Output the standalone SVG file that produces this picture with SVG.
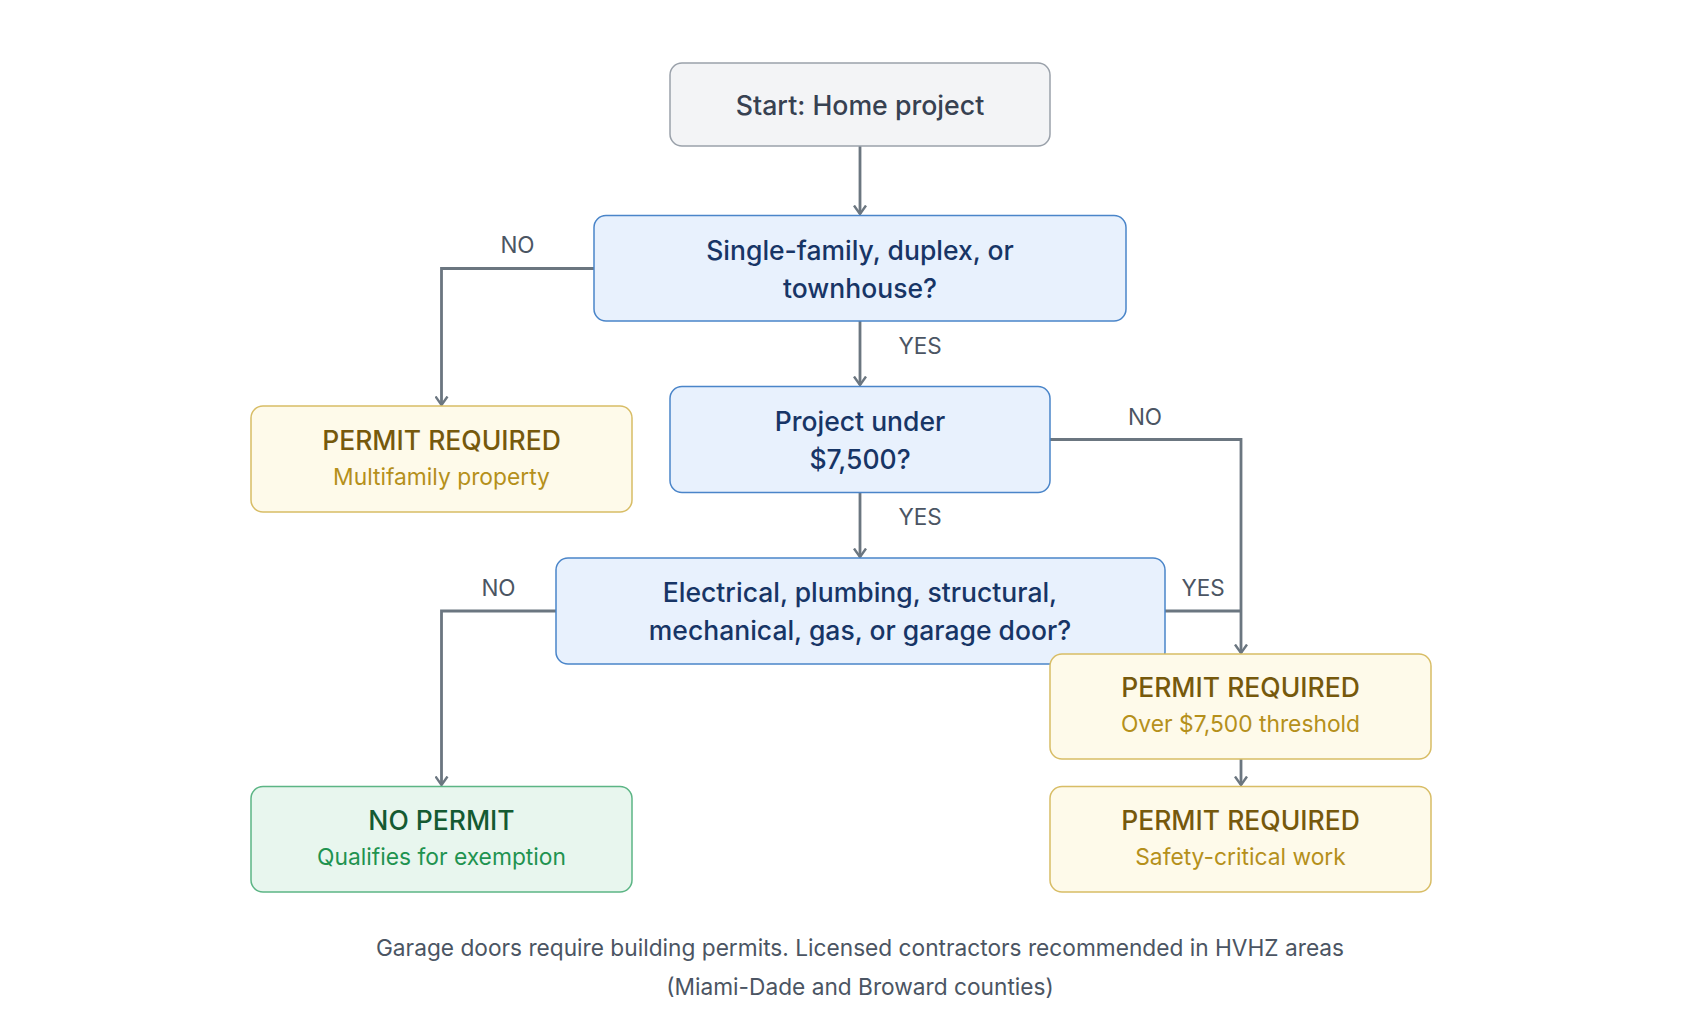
<svg xmlns="http://www.w3.org/2000/svg" width="1705" height="1033" viewBox="0 0 1705 1033">
<style>
text{font-family:Inter,"Noto Sans","Liberation Sans",sans-serif;text-anchor:middle}
.start rect{fill:#f3f4f6;stroke:#9aa1aa;stroke-width:1.5}
.start text{fill:#374151;font-size:26.7px;font-weight:500}
.q rect{fill:#e8f1fd;stroke:#4a85c9;stroke-width:1.5}
.q text{fill:#173566;font-size:26.5px;font-weight:500}
.p rect{fill:#fefaea;stroke:#d8bd66;stroke-width:1.5}
.p .t{fill:#76590c;font-size:26.5px;font-weight:500}
.p .s{fill:#b5901b;font-size:22.8px}
.g rect{fill:#e8f6ee;stroke:#5cb585;stroke-width:1.5}
.g .t{fill:#145a32;font-size:26.5px;font-weight:500}
.g .s{fill:#1f9350;font-size:22.8px}
.c path{fill:none;stroke:#6b7680;stroke-width:2.8;marker-end:url(#ah)}
.lbl{fill:#4b5563;font-size:22.5px}
.cap{fill:#4b5563;font-size:22.7px}
</style>
<defs>
<marker id="ah" viewBox="0 0 10 14" refX="9.5" refY="7" markerWidth="10" markerHeight="14" markerUnits="userSpaceOnUse" orient="auto">
<path d="M1,1 L9.5,7 L1,13" fill="none" stroke="#6b7680" stroke-width="2.4"/>
</marker>
</defs>
<rect width="1705" height="1033" fill="#ffffff"/>
<g class="c" id="connectors">
<path d="M860,146 V214"/>
<path d="M594,268.5 H441.5 V405"/>
<path d="M860,321 V385"/>
<path d="M1050,439.5 H1241 V653"/>
<path d="M860,493 V557"/>
<path d="M556,611 H441.5 V785"/>
<path d="M1165,611 H1241" style="marker-end:none"/>
<path d="M1241,759 V785"/>
</g>
<g id="labels">
<text class="lbl" x="517.5" y="252.5">NO</text>
<text class="lbl" x="920" y="353.5">YES</text>
<text class="lbl" x="1145" y="424.5">NO</text>
<text class="lbl" x="920" y="524.5">YES</text>
<text class="lbl" x="498.5" y="595.5">NO</text>
<text class="lbl" x="1203" y="595.5">YES</text>
</g>
<g id="start" class="start">
<rect x="670" y="63" width="380" height="83" rx="12"/>
<text x="860" y="114.5">Start: Home project</text>
</g>
<g id="q1" class="q">
<rect x="594" y="215.5" width="532" height="105.5" rx="12"/>
<text x="860" y="260">Single-family, duplex, or</text>
<text x="860" y="297.5">townhouse?</text>
</g>
<g id="q2" class="q">
<rect x="670" y="386.5" width="380" height="106" rx="12"/>
<text x="860" y="431">Project under</text>
<text x="860" y="468.5">$7,500?</text>
</g>
<g id="q3" class="q">
<rect x="556" y="558" width="609" height="106" rx="12"/>
<text x="860" y="602">Electrical, plumbing, structural,</text>
<text x="860" y="640">mechanical, gas, or garage door?</text>
</g>
<g id="multifamily" class="p">
<rect x="251" y="406" width="381" height="106" rx="12"/>
<text class="t" x="441.5" y="449.5">PERMIT REQUIRED</text>
<text class="s" x="441.5" y="485">Multifamily property</text>
</g>
<g id="over" class="p">
<rect x="1050" y="654" width="381" height="105" rx="12"/>
<text class="t" x="1240.5" y="697">PERMIT REQUIRED</text>
<text class="s" x="1240.5" y="732">Over $7,500 threshold</text>
</g>
<g id="safety" class="p">
<rect x="1050" y="786.5" width="381" height="105.5" rx="12"/>
<text class="t" x="1240.5" y="829.5">PERMIT REQUIRED</text>
<text class="s" x="1240.5" y="865">Safety-critical work</text>
</g>
<g id="nopermit" class="g">
<rect x="251" y="786.5" width="381" height="105.5" rx="12"/>
<text class="t" x="441.5" y="829.5">NO PERMIT</text>
<text class="s" x="441.5" y="865">Qualifies for exemption</text>
</g>
<g id="caption">
<text class="cap" x="860" y="956">Garage doors require building permits. Licensed contractors recommended in HVHZ areas</text>
<text class="cap" x="860" y="995">(Miami-Dade and Broward counties)</text>
</g>
</svg>
